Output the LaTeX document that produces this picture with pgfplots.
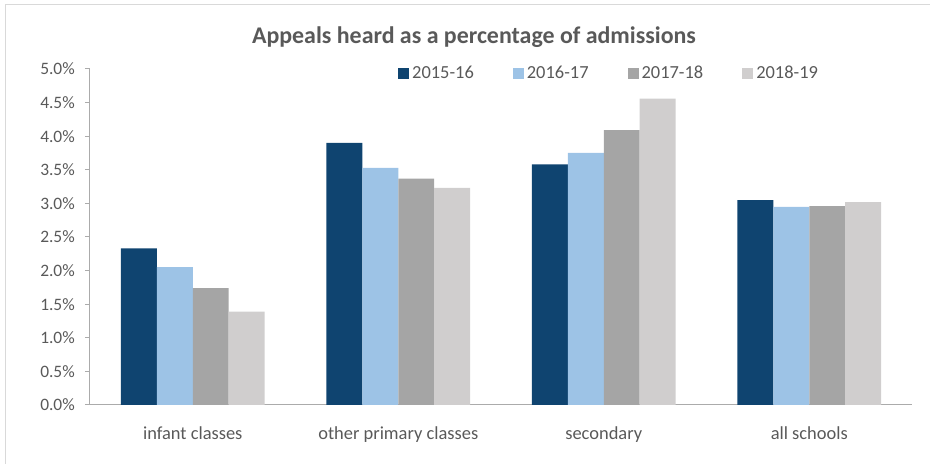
\documentclass[border=0pt]{standalone}
\usepackage{pgfplots}
\pgfplotsset{compat=1.18}
\usepackage{fontspec}
\setmainfont{Carlito}

\definecolor{navy}{HTML}{0F4470}
\definecolor{ltblue}{HTML}{9DC3E6}
\definecolor{midgray}{HTML}{A5A5A5}
\definecolor{ltgray}{HTML}{D0CECE}
\definecolor{txt}{HTML}{595959}
\definecolor{axgray}{HTML}{ABABAB}
\definecolor{frame}{HTML}{D9D9D9}

\begin{document}
\begin{tikzpicture}[x=1bp,y=1bp]
% page: 930 x 464, axis origin at pixel (90,405)
\path[use as bounding box] (-90,-59) rectangle (840,405);
\draw[frame, line width=1bp] (-84,-59) -- (-84,400) -- (840,400);

\begin{axis}[
    anchor=south west,
    scale only axis,
    width=822bp, height=336bp,
    xmin=-0.5, xmax=3.5,
    ymin=0, ymax=5,
    ybar=0pt,
    bar width=0.175,
    axis lines*=left,
    axis line style={axgray, line width=1bp},
    xtick={0,1,2,3},
    xticklabels={infant classes, other primary classes, secondary, all schools},
    xtick style={draw=none},
    ytick={0,0.5,...,5},
    ytick style={axgray, line width=1bp},
    tick align=outside,
    major tick length=5bp,
    /pgf/number format/assume math mode=true,
    yticklabel={\pgfmathprintnumber[fixed,fixed zerofill,precision=1]{\tick}\%},
    tick label style={font=\fontsize{17.5}{20}\selectfont, text=txt},
    xticklabel style={anchor=base, yshift=-30bp, font=\fontsize{18.5}{21}\selectfont},
    yticklabel style={anchor=east, inner sep=0pt, xshift=-10bp},
    legend image code/.code={\fill[#1] (0bp,-5.5bp) rectangle (11bp,5.5bp);},
    legend columns=-1,
    legend style={
        at={(0.3747,0.988)}, anchor=west,
        draw=none, fill=none, inner sep=0pt,
        font=\fontsize{18.5}{21}\selectfont, text=txt,
        /tikz/every even column/.append style={column sep=36bp},
        nodes={inner sep=3bp},
    },
]
\addplot[fill=navy, draw=none] coordinates {(0,2.33) (1,3.90) (2,3.58) (3,3.05)};
\addplot[fill=ltblue, draw=none] coordinates {(0,2.05) (1,3.53) (2,3.75) (3,2.95)};
\addplot[fill=midgray, draw=none] coordinates {(0,1.74) (1,3.37) (2,4.09) (3,2.96)};
\addplot[fill=ltgray, draw=none] coordinates {(0,1.39) (1,3.23) (2,4.56) (3,3.02)};
\legend{2015-16, 2016-17, 2017-18, 2018-19}
\end{axis}

\node[font=\fontsize{24}{28}\selectfont\bfseries, text=txt] at (384,368) {Appeals heard as a percentage of admissions};
\end{tikzpicture}
\end{document}
